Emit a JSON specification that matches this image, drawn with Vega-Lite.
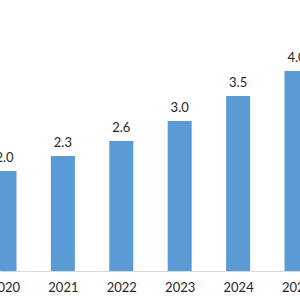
{
  "$schema": "https://vega.github.io/schema/vega-lite/v6.json",
  "width": 300,
  "height": 271,
  "autosize": {"type": "none"},
  "padding": {"left": 0, "top": 0, "right": 0, "bottom": 29},
  "background": "white",
  "config": {"view": {"stroke": null}, "font": "Lato"},
  "data": {"values": [
    {"year": 2020, "value": 2.0},
    {"year": 2021, "value": 2.3},
    {"year": 2022, "value": 2.6},
    {"year": 2023, "value": 3.0},
    {"year": 2024, "value": 3.5},
    {"year": 2025, "value": 4.0}
  ]},
  "encoding": {
    "x": {"field": "year", "type": "quantitative",
      "scale": {"domain": [2019.923, 2025.06], "nice": false, "zero": false, "padding": 0},
      "axis": {"values": [2020, 2021, 2022, 2023, 2024, 2025], "format": "d", "title": null,
        "grid": false, "ticks": false, "domainColor": "#d9d9d9", "domainWidth": 1,
        "labelFont": "Lato", "labelFontSize": 13, "labelColor": "#262626",
        "labelPadding": 10, "labelFlush": false, "labelOverlap": false, "labelBound": false}},
    "y": {"field": "value", "type": "quantitative",
      "scale": {"domain": [0, 5.42], "nice": false},
      "axis": null}
  },
  "layer": [
    {"mark": {"type": "bar", "size": 24, "color": "#5b9bd5"}},
    {"mark": {"type": "text", "baseline": "middle", "dy": -13, "fontSize": 13, "font": "Lato", "color": "#262626"},
     "encoding": {"text": {"field": "value", "type": "quantitative", "format": ".1f"}}}
  ]
}
